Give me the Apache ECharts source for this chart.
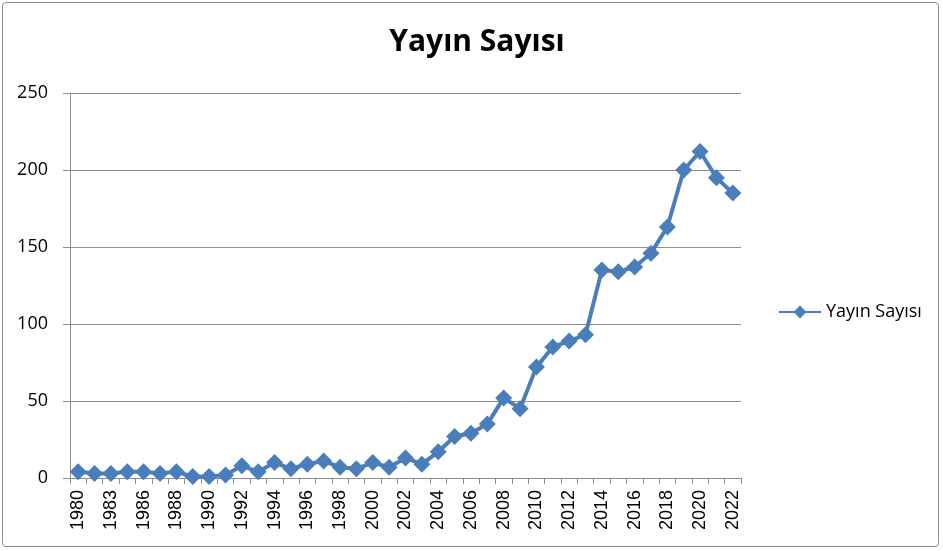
<!DOCTYPE html>
<html>
<head>
<meta charset="utf-8">
<script src="https://cdn.jsdelivr.net/npm/echarts@6/dist/echarts.min.js"></script>
<style>
html,body{margin:0;padding:0;background:#fff;}
#frame{position:absolute;left:2px;top:2px;width:937px;height:545px;border:1px solid #8c8c8c;border-radius:4px;box-sizing:border-box;}
#chart{position:absolute;left:0;top:0;width:943px;height:551px;}
</style>
</head>
<body>
<div id="frame"></div>
<div id="chart"></div>
<script>
const years = ['1980','1982','1983','1985','1986','1987','1988','1989','1990','1991','1992','1993','1994','1995','1996','1997','1998','1999','2000','2001','2002','2003','2004','2005','2006','2007','2008','2009','2010','2011','2012','2013','2014','2015','2016','2017','2018','2019','2020','2021','2022'];
const yayinSayisi = [4,3,3,4,4,3,4,1,1,2,8,4,10,6,9,11,7,6,10,7,13,9,17,27,29,35,52,45,72,85,89,93,135,134,137,146,163,200,212,195,185];
const seriesName = 'Yayın Sayısı';
const titleText = 'Yayın Sayısı';

const chart = echarts.init(document.getElementById('chart'));
chart.setOption({
  animation: false,
  backgroundColor: 'transparent',
  title: {
    text: titleText,
    left: 472, top: 22, textAlign: 'center',
    textStyle: {fontFamily: 'Open Sans', fontWeight: 'bold', fontSize: 30, color: '#000'}
  },
  legend: {
    data: [seriesName],
    orient: 'vertical',
    left: 773, top: 298,
    itemWidth: 42, itemHeight: 16, itemGap: 6,
    textStyle: {fontFamily: 'Open Sans', fontSize: 18, color: '#000'}
  },
  grid: {left: 70, right: 202, top: 93, bottom: 73, containLabel: false},
  xAxis: {
    type: 'category',
    data: years,
    boundaryGap: true,
    axisLine: {lineStyle: {color: '#8c8c8c', width: 1}},
    axisTick: {show: true, interval: 0, length: 6, lineStyle: {color: '#8c8c8c'}},
    axisLabel: {interval: 1, rotate: 90, margin: 12, fontFamily: 'Liberation Sans', fontSize: 18, color: '#000'}
  },
  yAxis: {
    type: 'value',
    min: 0, max: 250, interval: 50,
    axisLine: {show: true, lineStyle: {color: '#8c8c8c', width: 1}},
    axisTick: {show: true, length: 7, lineStyle: {color: '#8c8c8c'}},
    axisLabel: {margin: 22, fontFamily: 'Open Sans', fontSize: 18, color: '#000'},
    splitLine: {show: true, lineStyle: {color: '#8c8c8c', width: 1}}
  },
  series: [{
    name: seriesName,
    type: 'line',
    data: yayinSayisi,
    symbol: 'diamond',
    symbolSize: 17,
    showAllSymbol: true,
    lineStyle: {color: '#4a7ebb', width: 4},
    itemStyle: {color: '#4a7ebb'}
  }]
});
</script>
</body>
</html>
